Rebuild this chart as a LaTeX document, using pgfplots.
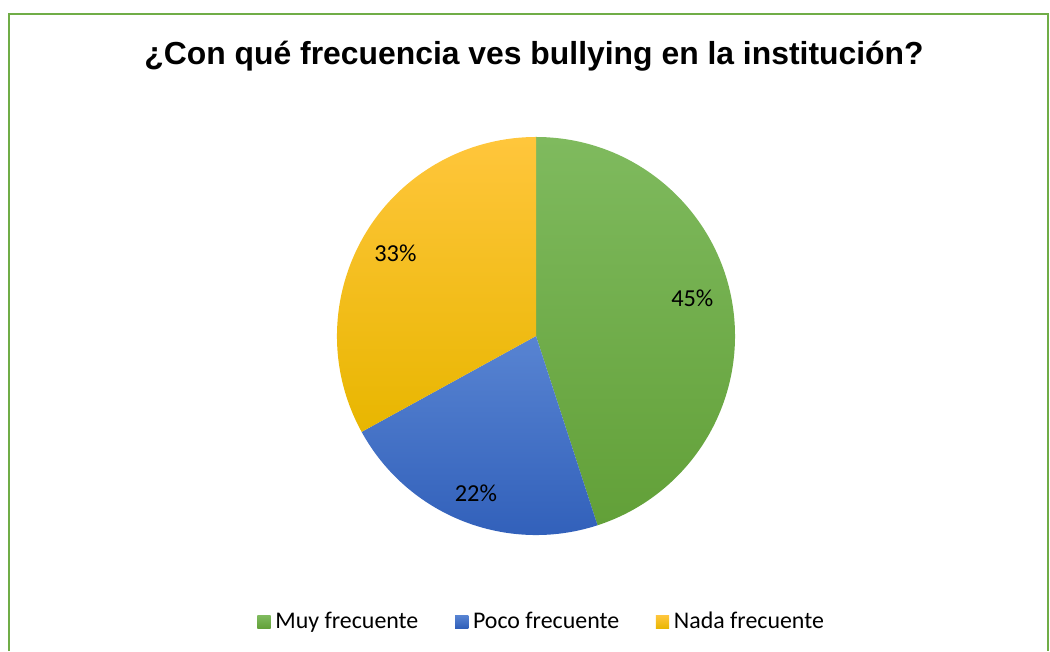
\documentclass[border=0pt]{standalone}
\usepackage{pgfplots}
\usepackage{pgfplotstable}
\pgfplotsset{compat=1.18}
\usetikzlibrary{calc}
\usepackage{fontspec}
\setmainfont{Carlito}
\newfontfamily\titlefont{Liberation Sans}

\definecolor{sliceTop0}{RGB}{127,186,94}
\definecolor{sliceBot0}{RGB}{98,160,56}
\definecolor{sliceTop1}{RGB}{88,132,210}
\definecolor{sliceBot1}{RGB}{46,93,184}
\definecolor{sliceTop2}{RGB}{255,198,60}
\definecolor{sliceBot2}{RGB}{232,182,0}
\definecolor{frame}{RGB}{112,173,71}

% share of each answer, percent; dx dy nudge the label (px)
\pgfplotstableread{
label value dx dy
{Muy frecuente} 45 -5 12
{Poco frecuente} 22 0 -5
{Nada frecuente} 33 0 0
}\piedata

% start, end and middle angle of each slice, clockwise from the top
\xdef\cum{90}
\foreach \i in {0,1,2} {
  \pgfplotstablegetelem{\i}{value}\of\piedata
  \xdef\val{\pgfplotsretval}
  \pgfplotstablegetelem{\i}{dx}\of\piedata
  \expandafter\xdef\csname pieX\i\endcsname{\pgfplotsretval}
  \pgfplotstablegetelem{\i}{dy}\of\piedata
  \expandafter\xdef\csname pieY\i\endcsname{\pgfplotsretval}
  \pgfmathsetmacro\a{\cum}
  \pgfmathsetmacro\b{\cum-3.6*\val}
  \pgfmathsetmacro\m{(\a+\b)/2}
  \expandafter\xdef\csname pieA\i\endcsname{\a}
  \expandafter\xdef\csname pieB\i\endcsname{\b}
  \expandafter\xdef\csname pieM\i\endcsname{\m}
  \expandafter\xdef\csname pieV\i\endcsname{\val}
  \xdef\cum{\b}
}

\def\R{2.985cm}   % pie radius
\def\Rl{2.45cm}   % radius of the labels

\begin{document}
\begin{tikzpicture}
\begin{axis}[
    x=0.015cm, y=0.015cm,
    xmin=0, xmax=1050, ymin=0, ymax=651,
    hide axis, clip=false,
    legend columns=3,
    legend style={at={(axis cs:543,29)}, anchor=center, draw=none,
        fill=none, font=\fontsize{10.2}{12}\selectfont,
        /tikz/every even column/.append style={column sep=0.48cm}},
    legend image code/.code={
        \shade[#1, draw=none] (-0.03cm,-0.1cm) rectangle (0.17cm,0.1cm);},
]
% fixes the page to the full chart area
\path (axis cs:0,0) rectangle (axis cs:1050,651);
\draw[frame, line width=0.7pt] (axis cs:9,0) -- (axis cs:9,637)
    -- (axis cs:1048,637) -- (axis cs:1048,0);
\node[font=\titlefont\bfseries\fontsize{13.6}{16}\selectfont]
    at (axis cs:534,595) {¿Con qué frecuencia ves bullying en la institución?};

\pgfplotsinvokeforeach{0,1,2}{
  \shade[top color=sliceTop#1, bottom color=sliceBot#1]
    (axis cs:536,315) -- ++(\csname pieA#1\endcsname:\R)
    arc[start angle=\csname pieA#1\endcsname,
        end angle=\csname pieB#1\endcsname, radius=\R] -- cycle;
  \node[font=\fontsize{10.4}{12}\selectfont]
    at ($(axis cs:536,315)+(\csname pieM#1\endcsname:\Rl)
        +(0.015*\csname pieX#1\endcsname cm,0.015*\csname pieY#1\endcsname cm)$)
    {\csname pieV#1\endcsname\%};
}

\addlegendimage{top color=sliceTop0, bottom color=sliceBot0}
\addlegendimage{top color=sliceTop1, bottom color=sliceBot1}
\addlegendimage{top color=sliceTop2, bottom color=sliceBot2}
\legend{Muy frecuente, Poco frecuente, Nada frecuente}
\end{axis}
\end{tikzpicture}
\end{document}
